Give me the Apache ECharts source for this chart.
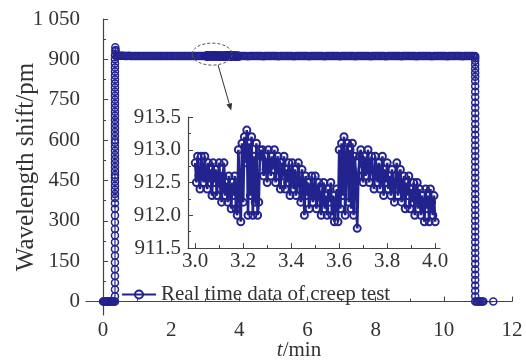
<!DOCTYPE html>
<html>
<head>
<meta charset="utf-8">
<script src="https://cdn.jsdelivr.net/npm/echarts@6/dist/echarts.min.js"></script>
<style>html,body{margin:0;padding:0;background:#fff}#c{width:526px;height:361px}</style>
</head>
<body>
<div id="c"></div>
<script>
// ---------- data (t in min, wavelength shift in pm) ----------
const xMainTicks = [0, 2, 4, 6, 8, 10, 12];
const xMainMinor = [1, 3, 5, 7, 9, 11];
const yMainTicks = [0, 150, 300, 450, 600, 750, 900, 1050];
const yMainMinor = [75, 225, 375, 525, 675, 825, 975];
const insetXTicks = [3.0, 3.2, 3.4, 3.6, 3.8, 4.0];
const insetXMinor = [3.1, 3.3, 3.5, 3.7, 3.9];
const seriesName = 'Real time data of creep test';

const startZeros = [[0.00,0],[0.03,0],[0.06,0],[0.09,0],[0.12,0],[0.15,0],[0.18,0],[0.21,0],[0.24,0],[0.27,0],[0.30,0],[0.33,0]];
const rise = [[0.35,0],[0.35,20],[0.35,45],[0.35,70],[0.35,95],[0.35,120],[0.35,145],[0.35,170],[0.35,195],[0.35,220],[0.35,245],[0.35,270],[0.35,295],[0.35,320],[0.35,345],[0.35,365],[0.35,385],[0.35,400],[0.35,415],[0.35,430],[0.35,445],[0.35,460],[0.35,470],[0.35,485],[0.35,500],[0.35,515],[0.35,530],[0.35,545],[0.35,560],[0.35,575],[0.35,590],[0.35,600],[0.35,615],[0.35,630],[0.35,645],[0.35,660],[0.35,675],[0.35,690],[0.35,705],[0.35,720],[0.35,735],[0.35,750],[0.35,765],[0.35,780],[0.35,795],[0.35,810],[0.35,825],[0.35,840],[0.35,855],[0.35,870],[0.35,885],[0.35,900],[0.35,915],[0.36,930],[0.36,945],[0.37,935]];
const plateau1 = [[0.40,914.8],[0.45,913.9],[0.50,913.5],[0.55,913.2],[0.60,913.0],[0.65,912.8],[0.70,912.6],[0.75,913.1],[0.80,912.9],[0.85,912.7],[0.90,912.5],[0.95,912.3],[1.00,912.9],[1.05,912.7],[1.10,912.5],[1.15,912.3],[1.20,912.8],[1.25,912.6],[1.30,912.4],[1.35,912.2],[1.40,912.9],[1.45,912.7],[1.50,912.5],[1.55,912.3],[1.60,912.1],[1.65,912.8],[1.70,912.6],[1.75,912.4],[1.80,912.2],[1.85,912.9],[1.90,912.7],[1.95,912.5],[2.00,912.3],[2.05,912.1],[2.10,912.8],[2.15,912.6],[2.20,912.4],[2.25,912.2],[2.30,912.9],[2.35,912.7],[2.40,912.5],[2.45,912.3],[2.50,912.1],[2.55,912.8],[2.60,912.6],[2.65,912.4],[2.70,912.2],[2.75,912.9],[2.80,912.7],[2.85,912.5],[2.90,912.3],[2.95,912.7]];
const insetData = [[3.000,912.8],[3.005,912.5],[3.010,912.9],[3.015,912.6],[3.020,912.4],[3.025,912.9],[3.030,912.7],[3.035,912.5],[3.040,912.9],[3.045,912.6],[3.050,912.4],[3.055,912.8],[3.060,912.5],[3.065,912.7],[3.070,912.3],[3.075,912.8],[3.080,912.5],[3.085,912.7],[3.090,912.3],[3.095,912.6],[3.100,912.8],[3.105,912.4],[3.110,912.2],[3.115,912.6],[3.120,912.8],[3.125,912.3],[3.130,912.5],[3.135,912.2],[3.140,912.6],[3.145,912.4],[3.150,912.1],[3.155,912.5],[3.160,912.3],[3.165,912.6],[3.170,912.1],
[3.175,912.0],[3.180,913.0],[3.185,912.4],[3.190,911.9],[3.195,913.1],[3.200,912.2],[3.205,913.2],[3.210,912.8],[3.215,913.3],[3.220,912.0],[3.225,913.1],[3.230,912.3],[3.235,913.2],[3.240,912.0],[3.245,912.9],[3.250,912.2],[3.255,913.1],[3.260,912.0],[3.265,912.2],[3.270,913.0],[3.275,912.9],[3.280,913.0],[3.285,912.6],[3.290,912.9],
[3.295,912.7],[3.300,912.5],[3.305,913.0],[3.310,912.8],[3.315,912.6],[3.320,912.9],[3.325,912.7],[3.330,913.0],[3.335,912.5],[3.340,912.8],[3.345,912.9],[3.350,912.6],[3.355,912.4],[3.360,912.8],[3.365,912.6],[3.370,912.9],[3.375,912.4],[3.380,912.7],[3.385,912.5],[3.390,912.8],[3.395,912.3],[3.400,912.6],[3.405,912.8],[3.410,912.4],[3.415,912.7],[3.420,912.3],[3.425,912.5],[3.430,912.8],[3.435,912.4],[3.440,912.2],[3.445,912.7],[3.450,912.5],[3.455,912.0],[3.460,912.6],[3.465,912.3],[3.470,912.5],[3.475,912.1],[3.480,912.4],[3.485,912.6],[3.490,912.2],[3.495,912.4],[3.500,912.6],[3.505,912.1],[3.510,912.3],[3.515,912.5],[3.520,912.2],[3.525,912.0],[3.530,912.4],[3.535,912.5],[3.540,912.1],[3.545,912.3],[3.550,912.0],[3.555,912.4],[3.560,912.2],[3.565,912.5],[3.570,912.0],[3.575,912.3],[3.580,911.9],[3.585,912.2],[3.590,912.4],[3.595,911.9],
[3.600,913.0],[3.605,912.1],[3.610,913.1],[3.615,912.3],[3.620,913.2],[3.625,912.0],[3.630,912.9],[3.635,913.1],[3.640,912.2],[3.645,913.0],[3.650,912.1],[3.655,913.1],[3.660,912.0],[3.665,912.9],[3.670,912.6],[3.675,911.8],[3.680,912.6],[3.685,912.9],[3.690,913.0],[3.695,912.7],
[3.700,912.5],[3.705,912.9],[3.710,912.6],[3.715,912.8],[3.720,913.0],[3.725,912.5],[3.730,912.7],[3.735,912.9],[3.740,912.6],[3.745,912.4],[3.750,912.9],[3.755,912.7],[3.760,912.5],[3.765,912.8],[3.770,912.4],[3.775,912.6],[3.780,912.9],[3.785,912.3],[3.790,912.7],[3.795,912.5],[3.800,912.8],[3.805,912.4],[3.810,912.6],[3.815,912.3],[3.820,912.7],[3.825,912.5],[3.830,912.2],[3.835,912.6],[3.840,912.8],[3.845,912.3],[3.850,912.5],[3.855,912.7],[3.860,912.2],[3.865,912.4],[3.870,912.6],[3.875,912.1],[3.880,912.5],[3.885,912.3],[3.890,912.6],[3.895,912.1],[3.900,912.4],[3.905,912.2],[3.910,912.5],[3.915,912.0],[3.920,912.3],[3.925,912.5],[3.930,912.1],[3.935,912.4],[3.940,912.0],[3.945,912.3],[3.950,912.2],[3.955,911.9],[3.960,912.4],[3.965,912.1],[3.970,912.3],[3.975,911.9],[3.980,912.4],[3.985,912.2],[3.990,912.0],[3.995,912.3],[4.000,911.9]];
const plateau2 = [[4.05,912.8],[4.10,912.6],[4.15,912.4],[4.20,912.2],[4.25,912.0],[4.30,912.7],[4.35,912.5],[4.40,912.3],[4.45,912.1],[4.50,912.8],[4.55,912.6],[4.60,912.4],[4.65,912.2],[4.70,912.0],[4.75,912.7],[4.80,912.5],[4.85,912.3],[4.90,912.1],[4.95,912.8],[5.00,912.6],[5.05,912.4],[5.10,912.2],[5.15,912.0],[5.20,912.7],[5.25,912.5],[5.30,912.3],[5.35,912.1],[5.40,912.8],[5.45,912.6],[5.50,912.4],[5.55,912.2],[5.60,912.0],[5.65,912.7],[5.70,912.5],[5.75,912.3],[5.80,912.1],[5.85,912.8],[5.90,912.6],[5.95,912.4],[6.00,912.2],[6.05,912.0],[6.10,912.7],[6.15,912.5],[6.20,912.3],[6.25,912.1],[6.30,912.8],[6.35,912.6],[6.40,912.4],[6.45,912.2],[6.50,912.0],[6.55,912.7],[6.60,912.5],[6.65,912.3],[6.70,912.1],[6.75,912.8],[6.80,912.6],[6.85,912.4],[6.90,912.2],[6.95,912.0],[7.00,912.7],[7.05,912.5],[7.10,912.3],[7.15,912.1],[7.20,912.8],[7.25,912.6],[7.30,912.4],[7.35,912.2],[7.40,912.0],[7.45,912.7],[7.50,912.5],[7.55,912.3],[7.60,912.1],[7.65,912.8],[7.70,912.6],[7.75,912.4],[7.80,912.2],[7.85,912.0],[7.90,912.7],[7.95,912.5],[8.00,912.3],[8.05,912.1],[8.10,912.8],[8.15,912.6],[8.20,912.4],[8.25,912.2],[8.30,912.0],[8.35,912.7],[8.40,912.5],[8.45,912.3],[8.50,912.1],[8.55,912.8],[8.60,912.6],[8.65,912.4],[8.70,912.2],[8.75,912.0],[8.80,912.7],[8.85,912.5],[8.90,912.3],[8.95,912.1],[9.00,912.8],[9.05,912.6],[9.10,912.4],[9.15,912.2],[9.20,912.0],[9.25,912.7],[9.30,912.5],[9.35,912.3],[9.40,912.1],[9.45,912.8],[9.50,912.6],[9.55,912.4],[9.60,912.2],[9.65,912.0],[9.70,912.7],[9.75,912.5],[9.80,912.3],[9.85,912.1],[9.90,912.8],[9.95,912.6],[10.00,912.4],[10.05,912.2],[10.10,912.0],[10.15,912.7],[10.20,912.5],[10.25,912.3],[10.30,912.1],[10.35,912.8],[10.40,912.6],[10.45,912.4],[10.50,912.2],[10.55,912.0],[10.60,912.7],[10.65,912.5],[10.70,912.3],[10.75,912.1],[10.80,912.8],[10.85,912.6],[10.90,912.4]];
const fall = [[10.92,912],[10.92,905],[10.92,895],[10.92,880],[10.92,865],[10.92,850],[10.92,835],[10.92,820],[10.92,800],[10.92,780],[10.92,760],[10.92,740],[10.92,720],[10.92,700],[10.92,680],[10.92,660],[10.92,640],[10.92,620],[10.92,600],[10.92,580],[10.92,560],[10.92,540],[10.92,520],[10.92,500],[10.92,480],[10.92,460],[10.92,440],[10.92,420],[10.92,400],[10.92,380],[10.92,360],[10.92,340],[10.92,320],[10.92,300],[10.92,280],[10.92,260],[10.92,240],[10.92,220],[10.92,200],[10.92,180],[10.92,160],[10.92,140],[10.92,120],[10.92,100],[10.92,80],[10.92,60],[10.92,40],[10.92,20],[10.92,0]];
const endZeros = [[10.96,0],[11.00,0],[11.04,0],[11.08,0],[11.12,0],[11.16,0],[11.45,0]];

const mainData = startZeros.concat(rise, plateau1, insetData, plateau2, fall, endZeros);

// ---------- style ----------
const NAVY = '#23238e';
const AX = '#444';
const TXT = '#333';
const FONT = "'Liberation Serif','Times New Roman',serif";
const FS = 21;

const chart = echarts.init(document.getElementById('c'), null, {renderer: 'canvas'});

const symStyle = {color: 'rgba(255,255,255,0)', borderColor: NAVY, borderWidth: 1.5};

const option = {
  animation: false,
  backgroundColor: '#fff',
  textStyle: {fontFamily: FONT},
  grid: [
    {left: 86, top: 19, right: 14, bottom: 46, outerBoundsMode: 'none', containLabel: false},
    {left: 188, top: 117, right: 86, bottom: 113, outerBoundsMode: 'none', containLabel: false}
  ],
  legend: {
    left: 116, top: 279,
    itemWidth: 34, itemHeight: 10, itemGap: 4,
    textStyle: {fontFamily: FONT, fontSize: FS, color: TXT},
    data: [seriesName]
  },
  xAxis: [
    {gridIndex: 0, type: 'value', min: -0.5, max: 12,
     name: '{i|t}/min', nameLocation: 'middle', nameGap: 25, nameMoveOverlap: false,
     nameTextStyle: {fontFamily: FONT, fontSize: FS, color: TXT, rich: {i: {fontFamily: FONT, fontSize: FS, fontStyle: 'italic', color: TXT}}},
     axisLine: {lineStyle: {color: AX, width: 1.2}},
     axisTick: {inside: true, length: 5, customValues: xMainTicks, lineStyle: {color: AX}},
     axisLabel: {customValues: xMainTicks, fontFamily: FONT, fontSize: FS, color: TXT, margin: 5},
     splitLine: {show: false}},
    {gridIndex: 0, type: 'value', min: -0.5, max: 12, position: 'bottom',
     axisLine: {show: false},
     axisTick: {inside: true, length: 3, customValues: xMainMinor, lineStyle: {color: AX}},
     axisLabel: {show: false}, splitLine: {show: false}},
    {gridIndex: 1, type: 'value', min: 2.97, max: 4.02,
     axisLine: {lineStyle: {color: AX, width: 1.2}},
     axisTick: {inside: true, length: 5, customValues: insetXTicks, lineStyle: {color: AX}},
     axisLabel: {customValues: insetXTicks, fontFamily: FONT, fontSize: FS, color: TXT, margin: 3,
                 formatter: v => v.toFixed(1)},
     splitLine: {show: false}},
    {gridIndex: 1, type: 'value', min: 2.97, max: 4.02, position: 'bottom',
     axisLine: {show: false},
     axisTick: {inside: true, length: 3, customValues: insetXMinor, lineStyle: {color: AX}},
     axisLabel: {show: false}, splitLine: {show: false}}
  ],
  yAxis: [
    {gridIndex: 0, type: 'value', min: -50, max: 1050,
     name: 'Wavelength shift/pm', nameLocation: 'middle', nameGap: 47, nameMoveOverlap: false,
     nameTextStyle: {fontFamily: FONT, fontSize: 25, color: TXT},
     axisLine: {show: true, lineStyle: {color: AX, width: 1.2}},
     axisTick: {show: true, inside: true, length: 5, customValues: yMainTicks, lineStyle: {color: AX}},
     axisLabel: {customValues: yMainTicks, fontFamily: FONT, fontSize: FS, color: TXT, margin: 6,
                 formatter: v => v >= 1000 ? '1 ' + String(v).slice(1) : String(v)},
     splitLine: {show: false}},
    {gridIndex: 0, type: 'value', min: -50, max: 1050, position: 'left',
     axisLine: {show: false},
     axisTick: {show: true, inside: true, length: 3, customValues: yMainMinor, lineStyle: {color: AX}},
     axisLabel: {show: false}, splitLine: {show: false}},
    {gridIndex: 1, type: 'value', min: 911.5, max: 913.5, interval: 0.5,
     axisLine: {show: true, lineStyle: {color: AX, width: 1.2}},
     axisTick: {show: true, inside: true, length: 5, lineStyle: {color: AX}},
     minorTick: {show: true, splitNumber: 2, length: 3, lineStyle: {color: AX}},
     axisLabel: {fontFamily: FONT, fontSize: FS, color: TXT, margin: 7, formatter: v => v.toFixed(1)},
     splitLine: {show: false}}
  ],
  series: [
    {name: seriesName, type: 'line', xAxisIndex: 0, yAxisIndex: 0, data: mainData,
     symbol: 'circle', symbolSize: 7, showSymbol: true, showAllSymbol: true,
     itemStyle: symStyle, lineStyle: {color: NAVY, width: 1.2}, z: 3},
    {name: 'inset', type: 'line', xAxisIndex: 2, yAxisIndex: 2, data: insetData,
     symbol: 'circle', symbolSize: 7, showSymbol: true, showAllSymbol: true,
     itemStyle: {color: 'rgba(255,255,255,0)', borderColor: NAVY, borderWidth: 2},
     lineStyle: {color: NAVY, width: 2.6}, z: 4}
  ]
};
chart.setOption(option);

// annotation: dashed ellipse on the plateau and arrow pointing to the inset
const c = chart.convertToPixel({xAxisIndex: 0, yAxisIndex: 0}, [3.2, 912]);
const tip = chart.convertToPixel({xAxisIndex: 2, yAxisIndex: 2}, [3.15, 913.6]);
const s = [c[0] + 6, c[1] + 9];
const ang = Math.atan2(tip[1] - s[1], tip[0] - s[0]);
const L = 7, W = 3;
const bx = tip[0] - L * Math.cos(ang), by = tip[1] - L * Math.sin(ang);
const head = [tip, [bx + W * Math.sin(ang), by - W * Math.cos(ang)], [bx - W * Math.sin(ang), by + W * Math.cos(ang)]];
chart.setOption({
  graphic: [
    {type: 'ellipse', shape: {cx: c[0], cy: c[1] - 2, rx: 20, ry: 11},
     style: {fill: 'none', stroke: '#555', lineWidth: 1, lineDash: [3, 2]}, z: 10},
    {type: 'line', shape: {x1: s[0], y1: s[1], x2: bx, y2: by},
     style: {stroke: '#333', lineWidth: 1}, z: 10},
    {type: 'polygon', shape: {points: head}, style: {fill: '#333'}, z: 10}
  ]
});
</script>
</body>
</html>
